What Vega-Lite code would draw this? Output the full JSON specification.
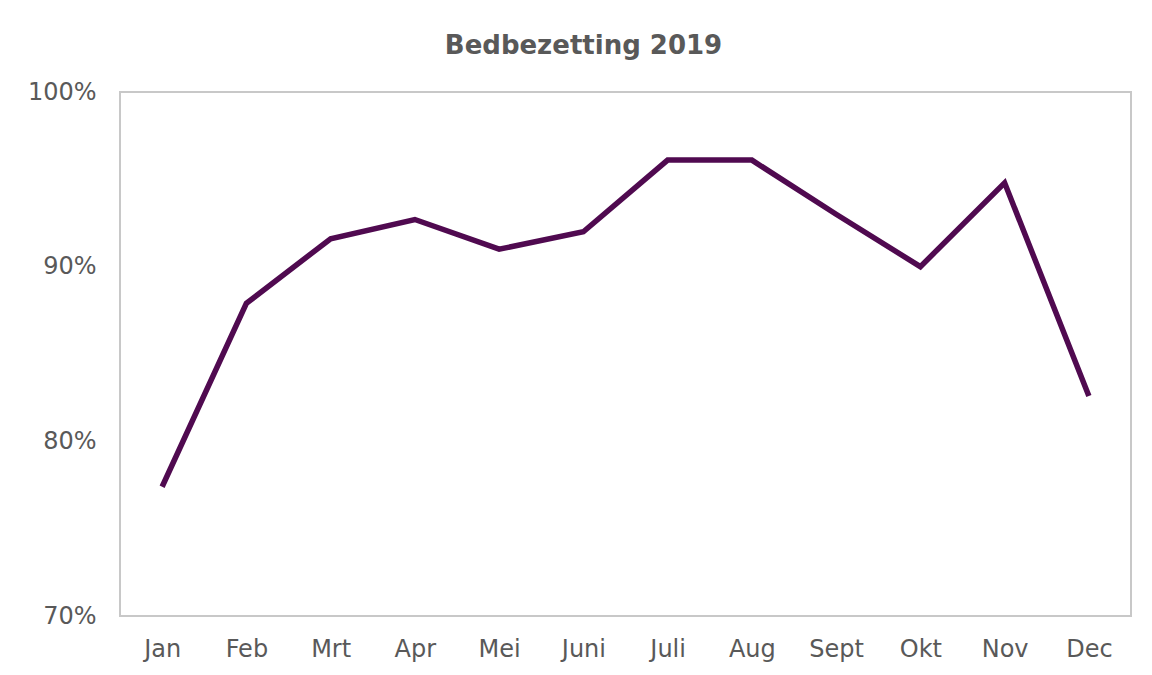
{
  "$schema": "https://vega.github.io/schema/vega-lite/v6.json",
  "autosize": {"type": "none"},
  "width": 1011,
  "height": 524,
  "padding": {"left": 120, "top": 92, "right": 21, "bottom": 59},
  "background": "white",
  "config": {
    "font": "DejaVu Sans",
    "view": {"stroke": "#c8c8c8", "strokeWidth": 2},
    "axis": {"grid": false, "ticks": false, "domain": false, "labelColor": "#595959", "labelFont": "DejaVu Sans", "labelFontSize": 24, "titleColor": "#595959"}
  },
  "title": {"text": "Bedbezetting 2019", "font": "DejaVu Sans", "fontSize": 26, "fontWeight": "bold", "color": "#595959", "anchor": "middle", "offset": 21, "dx": -42},
  "data": {"values": [
    {"month": "Jan", "value": 0.774},
    {"month": "Feb", "value": 0.879},
    {"month": "Mrt", "value": 0.916},
    {"month": "Apr", "value": 0.927},
    {"month": "Mei", "value": 0.910},
    {"month": "Juni", "value": 0.920},
    {"month": "Juli", "value": 0.961},
    {"month": "Aug", "value": 0.961},
    {"month": "Sept", "value": 0.930},
    {"month": "Okt", "value": 0.900},
    {"month": "Nov", "value": 0.948},
    {"month": "Dec", "value": 0.826}
  ]},
  "mark": {"type": "line", "color": "#500a50", "strokeWidth": 5.5, "strokeJoin": "miter"},
  "encoding": {
    "x": {"field": "month", "type": "ordinal", "sort": null, "scale": {"type": "point", "padding": 0.5}, "axis": {"title": null, "labelAngle": 0, "labelPadding": 21}},
    "y": {"field": "value", "type": "quantitative", "scale": {"domain": [0.7, 1.0], "nice": false, "zero": false}, "axis": {"title": null, "values": [0.7, 0.8, 0.9, 1.0], "format": ".0%", "labelPadding": 24}}
  }
}
